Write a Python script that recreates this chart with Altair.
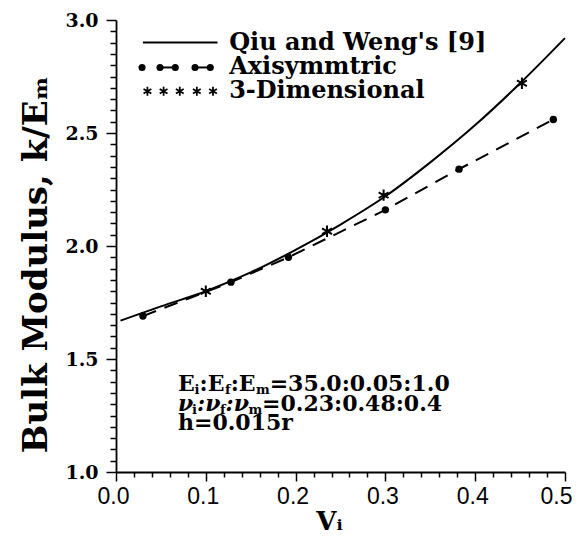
import altair as alt
import pandas as pd

# ---------------- data ----------------
qw_v = [0.005, 0.05, 0.10, 0.15, 0.20, 0.25, 0.30, 0.35, 0.40, 0.45, 0.50]
qw_k = [1.67, 1.733, 1.80, 1.883, 1.983, 2.095, 2.22, 2.37, 2.535, 2.72, 2.92]

axi_v = [0.030, 0.128, 0.192, 0.300, 0.382, 0.487]
axi_k = [1.69, 1.84, 1.95, 2.16, 2.34, 2.56]

td_v = [0.100, 0.235, 0.298, 0.452]
td_k = [1.80, 2.065, 2.225, 2.72]

x_major = [0.0, 0.1, 0.2, 0.3, 0.4, 0.5]
y_major = [1.0, 1.5, 2.0, 2.5, 3.0]
x_ticks = [round(i * 0.02, 2) for i in range(26)]
y_ticks = [round(1.0 + i * 0.05, 2) for i in range(41)]

legend_labels = ["Qiu and Weng's [9]", "Axisymmtric", "3-Dimensional"]
legend_rows_k = [2.900, 2.790, 2.685]
legend_x0, legend_x1, legend_text_x = 0.030, 0.113, 0.126
legend_dot_v = [0.029, 0.049, 0.066, 0.088, 0.105]
legend_star_v = [0.035, 0.053, 0.071, 0.090, 0.108]

note_lines = [
    [("E", 0), ("i", 1), (":E", 0), ("f", 1), (":E", 0), ("m", 1), ("=35.0:0.05:1.0", 0)],
    [("ν", 0), ("i", 1), (":ν", 0), ("f", 1), (":ν", 0), ("m", 1), ("=0.23:0.48:0.4", 0)],
    [("h=0.015r", 0)],
]
note_x = 0.069
note_k = [1.358, 1.272, 1.186]

# ---------------- styling ----------------
SERIF = "DejaVu Serif"
SANS = "Liberation Sans"
BASE = 22
SUB = 13
ASTER = "M0,-1L0,1M-0.87,-0.5L0.87,0.5M-0.87,0.5L0.87,-0.5"

WIDTH_EM = {"E": 0.756, "i": 0.384, ":": 0.40, "f": 0.435, "m": 1.042, "=": 0.838,
            ".": 0.381, "ν": 0.64, "h": 0.711, "r": 0.54}
for d in "0123456789":
    WIDTH_EM[d] = 0.696


def seg_width(text, size):
    return sum(WIDTH_EM.get(c, 0.65) for c in text) * size


rows = []
for li, segs in enumerate(note_lines):
    dx = 0.0
    for text, sub in segs:
        size = SUB if sub else BASE
        rows.append({"V": note_x, "k": note_k[li], "t": text, "dx": dx,
                     "sub": sub, "size": size})
        dx += seg_width(text, size)
notes = pd.DataFrame(rows)

qw = pd.DataFrame({"V": qw_v, "k": qw_k})
axi = pd.DataFrame({"V": axi_v, "k": axi_k})
td = pd.DataFrame({"V": td_v, "k": td_k})

x_major_test = "abs(datum.value*10 - round(datum.value*10)) < 0.001"
y_major_test = "abs(datum.value*2 - round(datum.value*2)) < 0.001"
x_last_test = "datum.value > 0.49"

xscale = alt.Scale(domain=[0, 0.5], nice=False, zero=False)
yscale = alt.Scale(domain=[1, 3], nice=False, zero=False)

x_axis = alt.Axis(
    values=x_ticks, labelExpr=f"{x_major_test} ? format(datum.value, '.1f') : ''",
    tickSize={"condition": {"test": x_major_test, "value": 9}, "value": 5},
    labelAlign={"condition": {"test": x_last_test, "value": "right"}, "value": "center"},
    labelOffset={"condition": {"test": x_last_test, "value": 7}, "value": -3},
    grid=False, labelFont=SANS, labelFontSize=23, labelColor="black",
    labelOverlap=False, labelFlush=False, labelPadding=4,
    tickColor="black", tickWidth=1.5, domainColor="black", domainWidth=1.8,
    title="Vᵢ", titleFont=SERIF, titleFontWeight="bold", titleFontSize=26,
    titleColor="black", titleX=213, titleY=57, titleBaseline="alphabetic",
)
y_axis = alt.Axis(
    values=y_ticks, labelExpr=f"{y_major_test} ? format(datum.value, '.1f') : ''",
    tickSize={"condition": {"test": y_major_test, "value": 10}, "value": 6},
    grid=False, labelFont=SERIF, labelFontWeight="bold", labelFontSize=19,
    labelColor="black", labelOverlap=False, labelFlush=False, labelPadding=8,
    tickColor="black", tickWidth=1.5, domainColor="black", domainWidth=1.8,
    title="Bulk Modulus, k/Eₘ", titleFont=SERIF, titleFontWeight="bold",
    titleFontSize=34, titleColor="black", titleAngle=270, titleX=-80, titleY=244,
    titleAlign="center", titleBaseline="middle",
)

X = alt.X("V:Q", scale=xscale, axis=x_axis)
Y = alt.Y("k:Q", scale=yscale, axis=y_axis)

curve = alt.Chart(qw).mark_line(color="black", strokeWidth=2, interpolate="monotone").encode(x=X, y=Y)
dashed = alt.Chart(axi).mark_line(color="black", strokeWidth=2, strokeDash=[14, 9]).encode(x=X, y=Y)
dots = alt.Chart(axi).mark_circle(color="black", size=55, opacity=1).encode(x=X, y=Y)
stars = alt.Chart(td).mark_point(shape=ASTER, size=130, filled=False, color="black",
                                 strokeWidth=2, opacity=1).encode(x=X, y=Y)

# ---------------- legend ----------------
leg_line = pd.DataFrame({"V": [legend_x0, legend_x1], "k": [legend_rows_k[0]] * 2})
leg_solid = alt.Chart(leg_line).mark_line(color="black", strokeWidth=2).encode(x=X, y=Y)
leg_dots_df = pd.DataFrame({"V": legend_dot_v, "k": [legend_rows_k[1]] * len(legend_dot_v)})
leg_dots = alt.Chart(leg_dots_df).mark_circle(color="black", size=50, opacity=1).encode(x=X, y=Y)
leg_seg_df = pd.DataFrame({
    "V": [legend_dot_v[1], legend_dot_v[2], legend_dot_v[3], legend_dot_v[4]],
    "k": [legend_rows_k[1]] * 4, "g": [0, 0, 1, 1]})
leg_segs = alt.Chart(leg_seg_df).mark_line(color="black", strokeWidth=2).encode(
    x=X, y=Y, detail="g:N")
leg_star_df = pd.DataFrame({"V": legend_star_v, "k": [legend_rows_k[2]] * len(legend_star_v)})
leg_stars = alt.Chart(leg_star_df).mark_point(shape=ASTER, size=80, filled=False, color="black",
                                              strokeWidth=1.8, opacity=1).encode(x=X, y=Y)
leg_text_df = pd.DataFrame({"V": [legend_text_x] * 3, "k": legend_rows_k, "t": legend_labels})
leg_text = alt.Chart(leg_text_df).mark_text(
    align="left", baseline="middle", font=SERIF, fontWeight="bold", fontSize=24,
    color="black").encode(x=X, y=Y, text="t:N")

# ---------------- annotation ----------------
note_layers = []
for _, r in notes.iterrows():
    style_italic = "italic" if "ν" in r["t"] else "normal"
    note_layers.append(
        alt.Chart(pd.DataFrame([r])).mark_text(
            align="left", baseline="alphabetic", font=SERIF, fontWeight="bold",
            fontStyle=style_italic, fontSize=int(r["size"]), dx=float(r["dx"]),
            dy=3 if r["sub"] else 0, color="black",
        ).encode(x=X, y=Y, text="t:N")
    )

chart = alt.layer(
    curve, dashed, dots, stars, leg_solid, leg_dots, leg_segs, leg_stars, leg_text,
    *note_layers
).properties(
    width=449, height=452,
    autosize=alt.AutoSizeParams(type="none"),
    padding={"left": 108, "top": 12, "right": 7, "bottom": 62},
    background="white",
).configure_view(stroke=None)

chart.save("out.html", embed_options={"renderer": "svg", "actions": False})
